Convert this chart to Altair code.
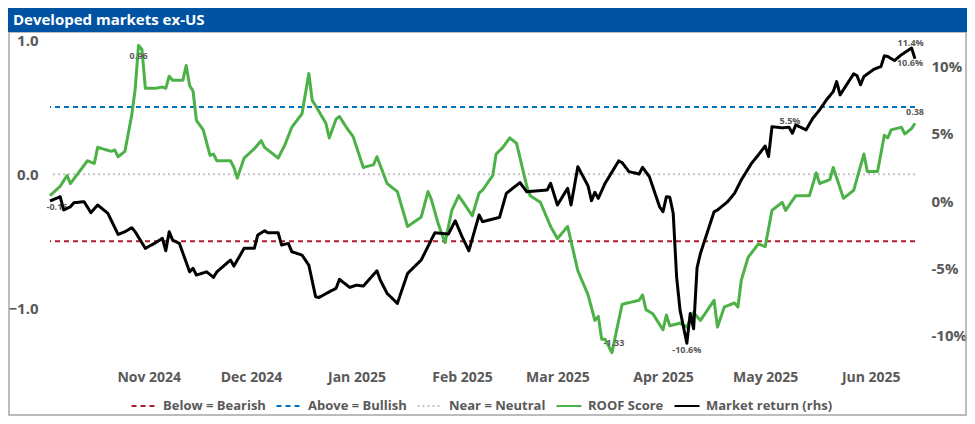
import altair as alt
import pandas as pd

# ---------------- data ----------------
roof_dates = [
    "2024-10-03", "2024-10-06", "2024-10-08", "2024-10-09", "2024-10-14", "2024-10-16", "2024-10-17",
    "2024-10-21", "2024-10-22", "2024-10-23", "2024-10-25", "2024-10-27", "2024-10-28", "2024-10-29",
    "2024-10-30", "2024-10-31", "2024-11-03", "2024-11-05", "2024-11-06", "2024-11-07", "2024-11-08",
    "2024-11-11", "2024-11-12", "2024-11-13", "2024-11-14", "2024-11-15", "2024-11-17", "2024-11-19",
    "2024-11-20", "2024-11-21", "2024-11-25", "2024-11-26", "2024-11-27", "2024-11-29", "2024-12-02",
    "2024-12-04", "2024-12-05", "2024-12-09", "2024-12-11", "2024-12-13", "2024-12-16", "2024-12-18",
    "2024-12-19", "2024-12-20", "2024-12-23", "2024-12-24", "2024-12-26", "2024-12-27", "2024-12-29",
    "2024-12-31", "2025-01-03", "2025-01-06", "2025-01-07", "2025-01-10", "2025-01-13", "2025-01-16",
    "2025-01-20", "2025-01-22", "2025-01-23", "2025-01-25", "2025-01-27", "2025-01-29", "2025-01-31",
    "2025-02-04", "2025-02-06", "2025-02-07", "2025-02-10", "2025-02-11", "2025-02-13", "2025-02-15",
    "2025-02-17", "2025-02-20", "2025-02-21", "2025-02-24", "2025-02-27", "2025-03-01", "2025-03-04",
    "2025-03-07", "2025-03-10", "2025-03-12", "2025-03-13", "2025-03-14", "2025-03-15", "2025-03-17",
    "2025-03-20", "2025-03-25", "2025-03-26", "2025-03-27", "2025-03-29", "2025-04-01", "2025-04-02",
    "2025-04-03", "2025-04-06", "2025-04-08", "2025-04-10", "2025-04-12", "2025-04-16", "2025-04-17",
    "2025-04-19", "2025-04-22", "2025-04-23", "2025-04-24", "2025-04-26", "2025-04-29", "2025-05-01",
    "2025-05-03", "2025-05-06", "2025-05-07", "2025-05-10", "2025-05-14", "2025-05-16", "2025-05-17",
    "2025-05-20", "2025-05-21", "2025-05-24", "2025-05-27", "2025-05-30", "2025-05-31", "2025-06-03",
    "2025-06-05", "2025-06-06", "2025-06-07", "2025-06-10", "2025-06-11", "2025-06-13", "2025-06-14",
]
roof_values = [
    -0.16, -0.09, -0.01, -0.07, 0.10, 0.08, 0.20,
    0.17, 0.18, 0.13, 0.17, 0.44, 0.63, 0.96,
    0.93, 0.64, 0.64, 0.65, 0.64, 0.73, 0.70,
    0.70, 0.81, 0.66, 0.62, 0.40, 0.33, 0.14,
    0.15, 0.10, 0.10, 0.05, -0.03, 0.12, 0.19,
    0.25, 0.20, 0.12, 0.22, 0.35, 0.45, 0.75,
    0.55, 0.51, 0.38, 0.27, 0.41, 0.43, 0.35,
    0.28, 0.05, 0.07, 0.13, -0.07, -0.13, -0.39,
    -0.32, -0.13, -0.19, -0.37, -0.51, -0.27, -0.16,
    -0.31, -0.14, -0.12, -0.01, 0.15, 0.20, 0.27,
    0.23, -0.09, -0.16, -0.21, -0.39, -0.48, -0.39,
    -0.72, -0.90, -1.09, -1.06, -1.23, -1.23, -1.33,
    -0.97, -0.94, -0.90, -1.01, -1.04, -1.16, -1.05,
    -1.13, -1.11, -1.14, -1.03, -1.09, -0.94, -1.14,
    -0.99, -0.96, -0.99, -0.79, -0.62, -0.52, -0.54,
    -0.27, -0.21, -0.27, -0.16, -0.16, 0.01, -0.07,
    -0.04, 0.05, -0.18, -0.12, 0.15, 0.02, 0.02,
    0.29, 0.27, 0.33, 0.35, 0.30, 0.34, 0.38,
]

mkt_dates = [
    "2024-10-03", "2024-10-06", "2024-10-07", "2024-10-09", "2024-10-10", "2024-10-13", "2024-10-15",
    "2024-10-17", "2024-10-20", "2024-10-23", "2024-10-25", "2024-10-27", "2024-10-28", "2024-10-31",
    "2024-11-03", "2024-11-05", "2024-11-06", "2024-11-07", "2024-11-08", "2024-11-10", "2024-11-13",
    "2024-11-14", "2024-11-15", "2024-11-18", "2024-11-20", "2024-11-21", "2024-11-25", "2024-11-26",
    "2024-11-29", "2024-12-02", "2024-12-03", "2024-12-05", "2024-12-06", "2024-12-09", "2024-12-10",
    "2024-12-12", "2024-12-13", "2024-12-16", "2024-12-18", "2024-12-20", "2024-12-21", "2024-12-24",
    "2024-12-26", "2024-12-27", "2024-12-30", "2025-01-01", "2025-01-03", "2025-01-07", "2025-01-08",
    "2025-01-10", "2025-01-13", "2025-01-16", "2025-01-20", "2025-01-24", "2025-01-28", "2025-01-30",
    "2025-02-01", "2025-02-03", "2025-02-06", "2025-02-07", "2025-02-12", "2025-02-14", "2025-02-18",
    "2025-02-20", "2025-02-26", "2025-02-27", "2025-03-01", "2025-03-04", "2025-03-05", "2025-03-07",
    "2025-03-10", "2025-03-11", "2025-03-12", "2025-03-13", "2025-03-15", "2025-03-19", "2025-03-20",
    "2025-03-22", "2025-03-25", "2025-03-26", "2025-03-28", "2025-03-31", "2025-04-01", "2025-04-02",
    "2025-04-03", "2025-04-04", "2025-04-05", "2025-04-06", "2025-04-08", "2025-04-09", "2025-04-10",
    "2025-04-11", "2025-04-12", "2025-04-16", "2025-04-17", "2025-04-20", "2025-04-22", "2025-04-24",
    "2025-04-27", "2025-04-29", "2025-05-01", "2025-05-02", "2025-05-03", "2025-05-06", "2025-05-08",
    "2025-05-09", "2025-05-10", "2025-05-13", "2025-05-15", "2025-05-17", "2025-05-19", "2025-05-21",
    "2025-05-22", "2025-05-23", "2025-05-27", "2025-05-28", "2025-05-29", "2025-05-30", "2025-06-02",
    "2025-06-04", "2025-06-05", "2025-06-06", "2025-06-08", "2025-06-10", "2025-06-13", "2025-06-14",
]
mkt_values = [
    0.0, 0.32, -0.67, -0.43, -0.13, -0.05, -0.87,
    -0.30, -0.92, -2.49, -2.29, -1.99, -2.29, -3.53,
    -3.11, -2.78, -3.71, -2.29, -2.91, -3.16, -5.28,
    -5.02, -5.52, -5.28, -5.69, -5.28, -4.40, -4.85,
    -3.53, -3.53, -2.54, -2.22, -2.37, -2.37, -3.28,
    -3.16, -3.78, -4.03, -4.78, -7.14, -7.19, -6.77,
    -6.51, -5.84, -6.44, -6.27, -6.34, -5.20, -5.90,
    -6.89, -7.63, -5.40, -4.40, -2.37, -2.46, -1.47,
    -2.66, -3.71, -1.04, -1.54, -1.22, 0.57, 1.37,
    0.69, 0.82, 1.32, -0.30, 0.95, -0.30, 2.56,
    1.12, 0.02, 0.65, 0.20, 1.32, 2.99, 2.86,
    2.19, 2.01, 2.51, 1.81, -0.43, -0.80, 0.32,
    0.28, -0.92, -5.65, -8.13, -10.6, -8.38, -9.52,
    -4.98, -3.90, -0.80, -0.67, -0.05, 0.57, 1.57,
    2.81, 3.43, 4.10, 3.31, 5.54, 5.45, 5.50,
    5.05, 5.67, 5.30, 6.17, 6.79, 7.54, 8.16,
    8.90, 7.91, 9.48, 9.33, 8.66, 9.28, 9.83,
    10.02, 10.82, 10.77, 10.47, 10.90, 11.4, 10.6,
]

ref_names = ["Below = Bearish", "Above = Bullish", "Near = Neutral"]
ref_values = [-0.5, 0.5, 0.0]

series_names = ["Below = Bearish", "Above = Bullish", "Near = Neutral", "ROOF Score", "Market return (rhs)"]

roof_label_dates = ["2024-10-03", "2024-10-29", "2025-03-17", "2025-06-14"]
roof_label_values = [-0.16, 0.96, -1.33, 0.38]
roof_label_texts = ["-0.16", "0.96", "-1.33", "0.38"]

mkt_label_dates = ["2025-04-08", "2025-05-08", "2025-06-13", "2025-06-14"]
mkt_label_values = [-10.6, 5.5, 11.4, 10.6]
mkt_label_texts = ["-10.6%", "5.5%", "11.4%", "10.6%"]

left_ticks = [-1.0, 0.0, 1.0]
right_ticks = [-10, -5, 0, 5, 10]
title_text = "Developed markets ex-US"

# ---------------- styling ----------------
series_colors = ["#b01c2e", "#0070c0", "#c4c4c4", "#4cb147", "#000000"]
series_dashes = [[5, 4], [5, 4], [2, 3], [1, 0], [1, 0]]
FONT = "Open Sans"
GREY = "#595959"
W, H = 865, 322

label_offsets = {
    "-0.16": (7, 11), "0.96": (0, 11), "-1.33": (2, -10), "0.38": (0, -11),
    "-10.6%": (0, 7), "5.5%": (1, -6), "11.4%": (-1, -5), "10.6%": (-5, 4),
}

roof_df = pd.DataFrame({"date": roof_dates, "value": roof_values, "series": "ROOF Score"})
mkt_df = pd.DataFrame({"date": mkt_dates, "value": mkt_values, "series": "Market return (rhs)"})
ref_df = pd.DataFrame({"value": ref_values, "series": ref_names})
dummy = pd.DataFrame({"k": [0]})

x_domain = [alt.DateTime(year=2024, month=10, date=3, utc=True),
            alt.DateTime(year=2025, month=6, date=14, utc=True)]
x_ticks = [alt.DateTime(year=y, month=m, date=1, utc=True)
           for (y, m) in [(2024, 11), (2024, 12), (2025, 1), (2025, 2), (2025, 3), (2025, 4), (2025, 5), (2025, 6)]]

x_enc = alt.X("date:T", scale=alt.Scale(type="utc", domain=x_domain),
              axis=alt.Axis(values=x_ticks, labelExpr="utcFormat(datum.value, '%b %Y')", title=None,
                            labelFont=FONT, labelFontSize=14, labelFontWeight="bold", labelColor=GREY,
                            domain=False, ticks=False, grid=False, labelPadding=8, labelFlush=False))

y_left = alt.Y("value:Q", scale=alt.Scale(domain=[-1.4, 1.0], nice=False, zero=False),
               axis=alt.Axis(orient="left", values=left_ticks, format=".1f", title=None,
                             labelFont=FONT, labelFontSize=15, labelFontWeight="bold", labelColor=GREY,
                             domain=False, ticks=False, grid=False, labelPadding=12))
y_right = alt.Y("value:Q", scale=alt.Scale(domain=[-12, 12], nice=False, zero=False),
                axis=alt.Axis(orient="right", values=right_ticks, labelExpr="datum.value + '%'", title=None,
                              labelFont=FONT, labelFontSize=15, labelFontWeight="bold", labelColor=GREY,
                              domain=False, ticks=False, grid=False, labelPadding=16))

legend = alt.Legend(orient="none", legendX=80, legendY=352, direction="horizontal", title=None,
                    symbolType="stroke", symbolSize=625, symbolStrokeWidth=2.2,
                    labelFont=FONT, labelFontSize=13, labelFontWeight="bold", labelColor=GREY,
                    labelOffset=5, columnPadding=6, padding=0)
color_enc = alt.Color("series:N", scale=alt.Scale(domain=series_names, range=series_colors), legend=legend)
dash_enc = alt.StrokeDash("series:N", scale=alt.Scale(domain=series_names, range=series_dashes), legend=legend)

# ---------------- decorations ----------------
frame = alt.Chart(dummy).mark_rect(fillOpacity=0, stroke="#a6a6a6", strokeWidth=1.5).encode(
    x=alt.value(-41), x2=alt.value(W + 51), y=alt.value(-8), y2=alt.value(H + 53))
bar = alt.Chart(dummy).mark_rect(fill="#0052a2").encode(
    x=alt.value(-42), x2=alt.value(W + 52), y=alt.value(-32), y2=alt.value(-8))
title = alt.Chart(dummy).mark_text(align="left", baseline="middle", font=FONT, fontSize=15,
                                   fontWeight="bold", color="white").encode(
    x=alt.value(-37), y=alt.value(-20), text=alt.value(title_text))

# ---------------- left (ROOF score) ----------------
rules = alt.Chart(ref_df).mark_rule(strokeWidth=2).encode(y=y_left, color=color_enc, strokeDash=dash_enc)
roof_line = alt.Chart(roof_df).mark_line(strokeWidth=3, strokeJoin="round").encode(
    x=x_enc, y=y_left, color=color_enc, strokeDash=dash_enc)

def label_layers(dates, values, texts, y_enc):
    out = []
    for d, v, t in zip(dates, values, texts):
        dx, dy = label_offsets[t]
        df = pd.DataFrame({"date": [d], "value": [v], "txt": [t]})
        out.append(alt.Chart(df).mark_text(font=FONT, fontSize=9, fontWeight="bold", color=GREY,
                                           dx=dx, dy=dy, baseline="middle", align="center").encode(
            x=x_enc, y=y_enc, text="txt:N"))
    return out

left = alt.layer(frame, bar, title, rules, roof_line,
                 *label_layers(roof_label_dates, roof_label_values, roof_label_texts, y_left))

# ---------------- right (market return) ----------------
mkt_line = alt.Chart(mkt_df).mark_line(strokeWidth=3, strokeJoin="round").encode(
    x=x_enc, y=y_right, color=color_enc, strokeDash=dash_enc)
right = alt.layer(mkt_line, *label_layers(mkt_label_dates, mkt_label_values, mkt_label_texts, y_right))

chart = alt.layer(left, right).resolve_scale(y="independent").properties(
    width=W, height=H,
    autosize=alt.AutoSizeParams(type="none"),
    padding={"left": 42, "top": 32, "right": 52, "bottom": 54},
    background="white",
).configure_view(stroke=None)

chart.save("out.html", embed_options={"renderer": "svg", "actions": False})
